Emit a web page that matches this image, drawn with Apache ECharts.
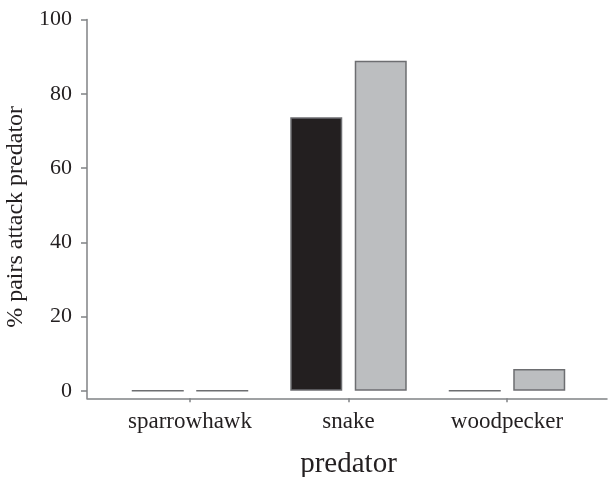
<!DOCTYPE html>
<html>
<head>
<meta charset="utf-8">
<script src="https://cdn.jsdelivr.net/npm/echarts@6/dist/echarts.min.js"></script>
<style>html,body{margin:0;padding:0;background:#fff}#c{width:608px;height:477px}</style>
</head>
<body>
<div id="c"></div>
<script>
const categories = ['sparrowhawk', 'snake', 'woodpecker'];
const seriesA = [0, 73.7, 0];
const seriesB = [0, 88.9, 5.9];
const yTicks = [0, 20, 40, 60, 80, 100];

const font = 'Liberation Serif';
const axisGrey = '#808285';
const chart = echarts.init(document.getElementById('c'), null, {renderer: 'canvas'});
const gridTop = 19.5, gridBottom = 78.7;
chart.setOption({
  animation: false,
  backgroundColor: '#fff',
  grid: [
    {left: 110.75, right: 21.75, top: gridTop, bottom: gridBottom, containLabel: false, outerBoundsMode: 'none'},
    {left: 87, right: 1, top: gridTop, bottom: gridBottom, containLabel: false, outerBoundsMode: 'none'}
  ],
  xAxis: [
    {
      type: 'category', gridIndex: 0, data: categories,
      axisLine: {show: false, onZero: false},
      axisTick: {show: true, alignWithLabel: true, interval: 0, length: 4, lineStyle: {color: axisGrey, width: 1.5}},
      axisLabel: {color: '#231f20', fontFamily: font, fontSize: 23, margin: 12, interval: 0, hideOverlap: false},
      name: 'predator', nameLocation: 'middle', nameGap: 52,
      nameTextStyle: {color: '#231f20', fontFamily: font, fontSize: 29}
    },
    {
      type: 'value', gridIndex: 1, min: 0, max: 1,
      axisLine: {show: true, onZero: false, lineStyle: {color: axisGrey, width: 1.5}},
      axisTick: {show: false}, axisLabel: {show: false}, splitLine: {show: false}
    }
  ],
  yAxis: [
    {
      type: 'value', gridIndex: 0, min: -2, max: 100,
      show: false, splitLine: {show: false}
    },
    {
      type: 'value', gridIndex: 1, min: -2, max: 100,
      axisLine: {show: true, onZero: false, lineStyle: {color: axisGrey, width: 1.5}},
      axisTick: {show: true, length: 6, customValues: yTicks, lineStyle: {color: axisGrey, width: 1.5}},
      axisLabel: {color: '#231f20', fontFamily: font, fontSize: 22, margin: 15, customValues: yTicks},
      splitLine: {show: false},
      name: '% pairs attack predator', nameLocation: 'middle', nameGap: 53, nameRotate: 90,
      nameTextStyle: {color: '#231f20', fontFamily: font, fontSize: 24, padding: [0, 16, 0, 0]}
    }
  ],
  series: [
    {
      type: 'bar', xAxisIndex: 0, yAxisIndex: 0, data: seriesA,
      barWidth: 52, barGap: '24%',
      itemStyle: {color: '#231f20', borderColor: '#6d6e71', borderWidth: 1.5}
    },
    {
      type: 'bar', xAxisIndex: 0, yAxisIndex: 0, data: seriesB,
      barWidth: 52, barGap: '24%',
      itemStyle: {color: '#bcbec0', borderColor: '#6d6e71', borderWidth: 1.5}
    }
  ]
});
</script>
</body>
</html>
